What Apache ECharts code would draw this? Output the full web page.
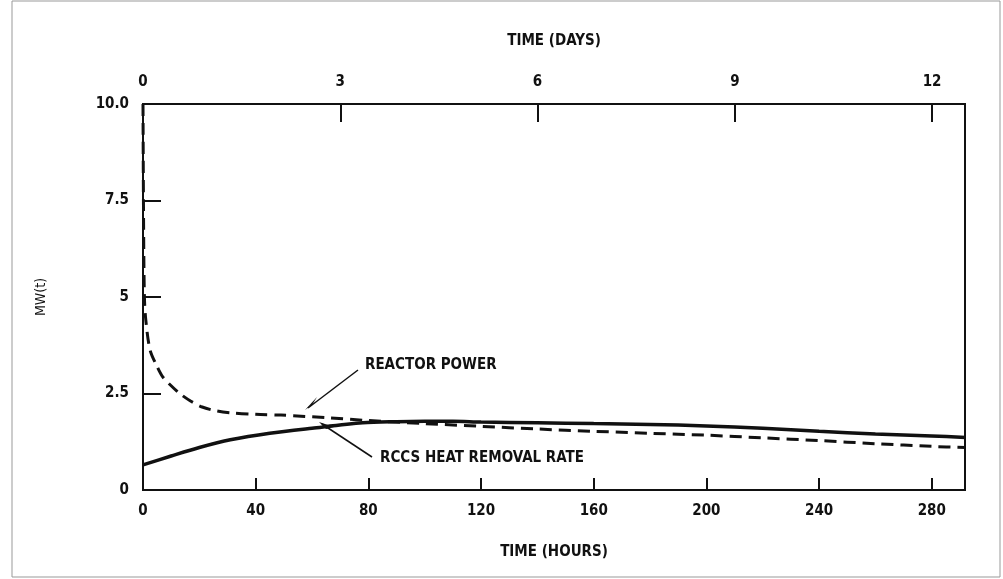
<!DOCTYPE html>
<html><head><meta charset="utf-8">
<script src="https://cdn.jsdelivr.net/npm/echarts@6/dist/echarts.min.js"></script>
<style>html,body{margin:0;background:#fff}#c{width:1003px;height:579px}</style>
</head><body><div id="c"></div>
<script>
// hours vs MW(t)
const powerHours = [0, 0.2, 0.5, 1, 2.5, 5, 7, 10, 13, 17, 21, 26, 31, 40, 49, 66, 80, 100, 120, 140, 160, 180, 200, 220, 240, 260, 280, 292];
const powerMW = [10, 7.0, 5.0, 4.4, 3.63, 3.2, 2.93, 2.7, 2.5, 2.3, 2.15, 2.05, 2.0, 1.96, 1.94, 1.87, 1.8, 1.72, 1.65, 1.58, 1.52, 1.47, 1.42, 1.35, 1.28, 1.2, 1.13, 1.1];
const rccsHours = [0, 10, 20, 31, 45, 60, 78, 90, 100, 110, 120, 140, 160, 180, 200, 220, 240, 260, 280, 292];
const rccsMW = [0.65, 0.88, 1.1, 1.3, 1.47, 1.6, 1.74, 1.77, 1.78, 1.78, 1.76, 1.74, 1.72, 1.7, 1.66, 1.6, 1.52, 1.45, 1.4, 1.36];
const yTicks = {0: '0', 2.5: '2.5', 5: '5', 7.5: '7.5', 10: '10.0'};

const font = 'DejaVu Sans Condensed';
const chart = echarts.init(document.getElementById('c'));
const txt = {color: '#111', fontFamily: font, fontSize: 15, fontWeight: 'bold'};
chart.setOption({
  animation: false,
  grid: {left: 143, right: 38, top: 104, bottom: 89, show: true, borderColor: '#111', borderWidth: 2},
  xAxis: [
    {type: 'value', min: 0, max: 291.8, interval: 40, position: 'bottom',
     name: 'TIME (HOURS)', nameLocation: 'middle', nameGap: 55, nameTextStyle: txt,
     axisLine: {lineStyle: {color: '#111', width: 2}},
     axisTick: {inside: true, length: 12, lineStyle: {color: '#111', width: 2}},
     axisLabel: Object.assign({margin: 14, showMaxLabel: false}, txt), splitLine: {show: false}},
    {type: 'value', min: 0, max: 12.5, interval: 3, position: 'top',
     name: 'TIME (DAYS)', nameLocation: 'middle', nameGap: 55, nameTextStyle: txt,
     axisLine: {lineStyle: {color: '#111', width: 2}},
     axisTick: {inside: true, length: 18, lineStyle: {color: '#111', width: 2}},
     axisLabel: Object.assign({margin: 14, showMaxLabel: false}, txt), splitLine: {show: false}}
  ],
  yAxis: {type: 'value', min: 0, max: 10, interval: 2.5,
    name: 'MW(t)', nameLocation: 'middle', nameGap: 95, nameTextStyle: Object.assign({}, txt, {fontWeight: 'normal', fontSize: 14}),
    axisLine: {lineStyle: {color: '#111', width: 2}},
    axisTick: {inside: true, length: 18, lineStyle: {color: '#111', width: 2}},
    axisLabel: Object.assign({margin: 14, formatter: v => yTicks[v] || ''}, txt),
    splitLine: {show: false}},
  series: [
    {type: 'line', name: 'REACTOR POWER', showSymbol: false, smooth: 0.3,
     data: powerHours.map((h, i) => [h, powerMW[i]]),
     lineStyle: {color: '#111', width: 3, type: [12, 7]}},
    {type: 'line', name: 'RCCS HEAT REMOVAL RATE', showSymbol: false, smooth: 0.3,
     data: rccsHours.map((h, i) => [h, rccsMW[i]]),
     lineStyle: {color: '#111', width: 3.5}}
  ],
  graphic: [
    {type: 'rect', shape: {x: 12, y: 1, width: 988, height: 576}, style: {fill: 'none', stroke: '#999', lineWidth: 1}},
    {type: 'text', left: 365, top: 358, style: {text: 'REACTOR POWER', fill: '#111', font: 'bold 15px ' + font}},
    {type: 'polyline', shape: {points: [[358, 370], [308, 408]]}, style: {stroke: '#111', lineWidth: 1.5}},
    {type: 'polygon', shape: {points: [[305, 410], [317, 397], [312, 405]]}, style: {fill: '#111'}},
    {type: 'text', left: 380, top: 451, style: {text: 'RCCS HEAT REMOVAL RATE', fill: '#111', font: 'bold 15px ' + font}},
    {type: 'polyline', shape: {points: [[372, 457], [322, 424]]}, style: {stroke: '#111', lineWidth: 1.5}},
    {type: 'polygon', shape: {points: [[319, 422], [334, 427], [326, 429]]}, style: {fill: '#111'}}
  ]
});
</script></body></html>
